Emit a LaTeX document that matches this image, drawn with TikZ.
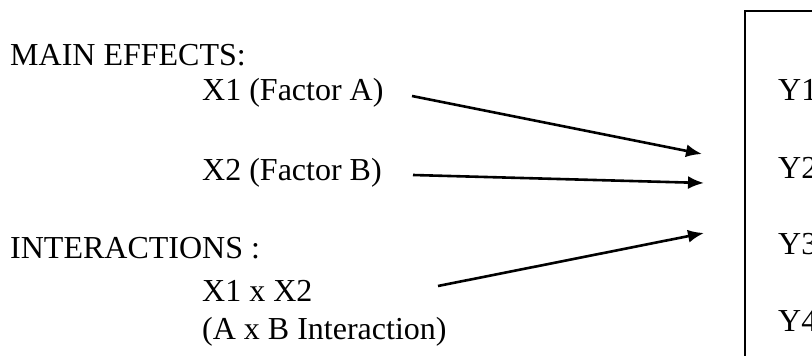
\documentclass[tikz,border=0pt]{standalone}
\usepackage{fontspec}
\setmainfont{Liberation Serif}
\usetikzlibrary{arrows.meta,positioning}
\begin{document}
\begin{tikzpicture}[x=1pt, y=-1pt, every node/.style={font=\fontsize{32}{38}\selectfont, inner sep=0pt, anchor=base west}, outbox/.style={draw, line width=2.4pt, anchor=north west, minimum width=140pt, minimum height=420pt}, arr/.style={-{Latex[length=16pt,width=13pt]}, line width=2.6pt}]
\useasboundingbox (0,0) rectangle (812,356);
\clip (0,0) rectangle (812,356);
\node (main) at (10,65) {MAIN EFFECTS:};
\node (xa) at (202,100) {X1 (Factor A)};
\node (xb) at (202,180) {X2 (Factor B)};
\node (inter) at (10,258) {INTERACTIONS :};
\node (xab) at (202,301) {X1 x X2};
\node (abint) at (202,339) {(A x B Interaction)};
\node[outbox] (ybox) at (744,10) {};
\node (y1) at (778,100) {Y1};
\node (y2) at (778,178) {Y2};
\node (y3) at (778,254) {Y3};
\node (y4) at (778,331) {Y4};
\coordinate (fa) at (412,96); \coordinate (fb) at (413,175); \coordinate (fab) at (438,286);
\coordinate (ta) at (702,154); \coordinate (tb) at (704,183); \coordinate (tab) at (704,233);
\draw[arr] (fa)--(ta); \draw[arr] (fb)--(tb); \draw[arr] (fab)--(tab);
\end{tikzpicture}
\end{document}
